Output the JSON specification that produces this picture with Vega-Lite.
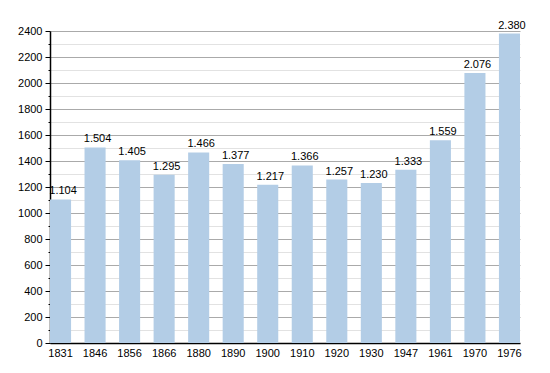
{
  "$schema": "https://vega.github.io/schema/vega-lite/v6.json",
  "width": 470,
  "height": 312,
  "autosize": {"type": "none"},
  "padding": {"left": 50, "top": 31, "right": 30, "bottom": 30},
  "background": "white",
  "config": {
    "locale": {"number": {"decimal": ",", "thousands": ".", "grouping": [3], "currency": ["", " €"]}},
    "font": "Liberation Sans",
    "view": {"stroke": null},
    "axis": {"labelFont": "Liberation Sans", "labelFontSize": 11, "labelColor": "#000", "domainColor": "#000", "tickColor": "#000"}
  },
  "data": {
    "values": [
      {"year": "1831", "pop": 1104},
      {"year": "1846", "pop": 1504},
      {"year": "1856", "pop": 1405},
      {"year": "1866", "pop": 1295},
      {"year": "1880", "pop": 1466},
      {"year": "1890", "pop": 1377},
      {"year": "1900", "pop": 1217},
      {"year": "1910", "pop": 1366},
      {"year": "1920", "pop": 1257},
      {"year": "1930", "pop": 1230},
      {"year": "1947", "pop": 1333},
      {"year": "1961", "pop": 1559},
      {"year": "1970", "pop": 2076},
      {"year": "1976", "pop": 2380}
    ]
  },
  "encoding": {
    "x": {
      "field": "year", "type": "ordinal", "sort": null,
      "scale": {"paddingInner": 0.39, "paddingOuter": 0},
      "axis": {"title": null, "labelAngle": 0, "ticks": false, "labelPadding": 4, "domainWidth": 1.5}
    },
    "y": {
      "field": "pop", "type": "quantitative",
      "scale": {"domain": [0, 2400], "nice": false},
      "axis": {
        "title": null,
        "values": [0,100,200,300,400,500,600,700,800,900,1000,1100,1200,1300,1400,1500,1600,1700,1800,1900,2000,2100,2200,2300,2400],
        "format": "d",
        "labelExpr": "datum.value % 200 === 0 ? datum.label : ''",
        "grid": true,
        "gridColor": {"condition": {"test": "datum.value % 200 === 0", "value": "#aaaaaa"}, "value": "#e2e2e2"},
        "tickSize": {"condition": {"test": "datum.value % 200 === 0", "value": 5}, "value": 2},
        "labelPadding": 3,
        "domainWidth": 1.5
      }
    }
  },
  "layer": [
    {"mark": {"type": "bar", "color": "#b3cde6"}},
    {
      "mark": {"type": "text", "baseline": "bottom", "dy": -3, "dx": 2.5, "fontSize": 11, "color": "#000", "font": "Liberation Sans", "zindex": 2},
      "encoding": {"text": {"field": "pop", "type": "quantitative", "format": ",d"}}
    }
  ]
}
